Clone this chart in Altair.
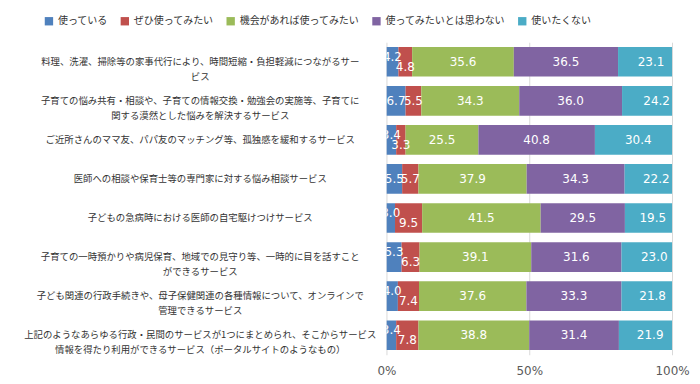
import altair as alt
import pandas as pd

items = [
    "料理、洗濯、掃除等の家事代行により、時間短縮・負担軽減につながるサー\nビス",
    "子育ての悩み共有・相談や、子育ての情報交換・勉強会の実施等、子育てに\n関する漠然とした悩みを解決するサービス",
    "ご近所さんのママ友、パパ友のマッチング等、孤独感を緩和するサービス",
    "医師への相談や保育士等の専門家に対する悩み相談サービス",
    "子どもの急病時における医師の自宅駆けつけサービス",
    "子育ての一時預かりや病児保育、地域での見守り等、一時的に目を話すこと\nができるサービス",
    "子ども関連の行政手続きや、母子保健関連の各種情報について、オンラインで\n管理できるサービス",
    "上記のようなあらゆる行政・民間のサービスが1つにまとめられ、そこからサービス\n情報を得たり利用ができるサービス（ポータルサイトのようなもの）",
]
series = ["使っている", "ぜひ使ってみたい", "機会があれば使ってみたい", "使ってみたいとは思わない", "使いたくない"]
colors = ["#4F81BD", "#C0504D", "#9BBB59", "#8064A2", "#4BACC6"]

v_use = [4.2, 6.7, 3.4, 5.5, 3.0, 5.3, 4.0, 3.4]
v_want = [4.8, 5.5, 3.3, 5.7, 9.5, 6.3, 7.4, 7.8]
v_maybe = [35.6, 34.3, 25.5, 37.9, 41.5, 39.1, 37.6, 38.8]
v_not = [36.5, 36.0, 40.8, 34.3, 29.5, 31.6, 33.3, 31.4]
v_never = [23.1, 24.2, 30.4, 22.2, 19.5, 23.0, 21.8, 21.9]

all_vals = [v_use, v_want, v_maybe, v_not, v_never]
rows = []
for i, it in enumerate(items):
    for k, s in enumerate(series):
        rows.append({"item": it, "series": s, "value": all_vals[k][i],
                     "order": k, "blue": v_use[i]})
df = pd.DataFrame(rows)

JP = "Noto Sans CJK JP"

base = alt.Chart(df).transform_stack(
    stack="value", groupby=["item"], as_=["x0", "x1"],
    sort=[alt.SortField("order", order="ascending")]
).transform_calculate(mid="(datum.x0 + datum.x1) / 2")

y_enc = alt.Y("item:N", sort=items, title=None,
              scale=alt.Scale(paddingInner=0.24, paddingOuter=0.12),
              axis=alt.Axis(labelExpr="split(datum.label, '\\n')", labelAlign="center",
                            labelBaseline="middle", labelPadding=187, labelLimit=500,
                            labelFont=JP, labelFontSize=9.4, labelColor="#333333",
                            labelLineHeight=15, ticks=False, domain=False, grid=False))

bars = base.mark_bar(clip=True).encode(
    x=alt.X("x0:Q", scale=alt.Scale(domain=[0, 100], nice=False, zero=True), title=None,
            axis=alt.Axis(values=[0, 50, 100], labelExpr="datum.value + '%'",
                          grid=True, gridColor="#D9D9D9", ticks=False, domain=False,
                          labelFlush=False,
                          labelFont="DejaVu Sans", labelFontSize=12, labelColor="#595959",
                          labelPadding=11)),
    x2="x1:Q",
    y=y_enc,
    color=alt.Color("series:N", scale=alt.Scale(domain=series, range=colors),
                    legend=alt.Legend(orient="none", direction="horizontal", title=None,
                                      legendX=-343, legendY=-26, symbolType="square",
                                      symbolSize=70, symbolStrokeWidth=0,
                                      labelFont=JP, labelFontSize=10, labelColor="#333333",
                                      columnPadding=12, symbolOffset=0)),
)

def text_layer(filt, dy):
    return base.transform_filter(filt).mark_text(
        color="white", font="DejaVu Sans", fontSize=12, dy=dy, clip=True
    ).encode(
        x=alt.X("mid:Q"),
        y=alt.Y("item:N", sort=items),
        text=alt.Text("value:Q", format=".1f"),
    )

stag = "datum.blue < 5.4"
t_up = text_layer(f"{stag} && datum.order == 0", -5)
t_down = text_layer(f"{stag} && datum.order == 1", 5)
t_mid = text_layer(f"!({stag} && datum.order <= 1)", 0)

chart = alt.layer(bars, t_up, t_down, t_mid).properties(
    width=286, height=313,
    autosize=alt.AutoSizeParams(type="none"),
    padding={"left": 379, "top": 34, "right": 20, "bottom": 25},
).configure_view(stroke=None)

chart.save("out.html", embed_options={"renderer": "svg", "actions": False})
